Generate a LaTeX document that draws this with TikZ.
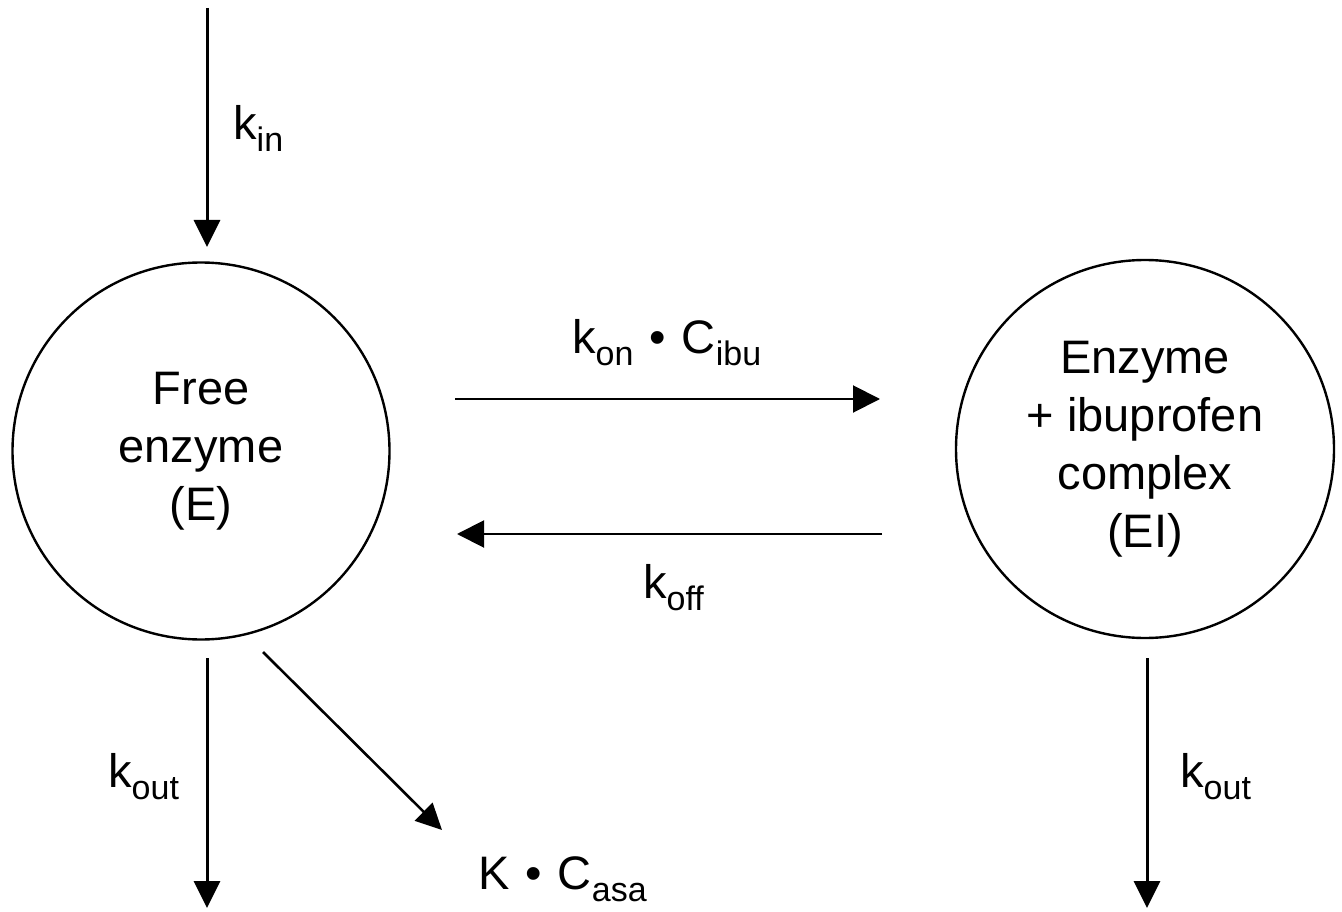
\documentclass[tikz,border=0pt]{standalone}
\usepackage{fontspec}
\setmainfont{Liberation Sans}
\usetikzlibrary{arrows.meta}
% lowered, smaller text for rate-constant subscripts
\newcommand\lowsub[1]{\raisebox{-12pt}{\fontsize{34}{34}\selectfont #1}}
% product dot with wide spacing
\newcommand\mdot{\hspace{16pt}•\hspace{16pt}}
\tikzset{
  pool/.style={circle, draw, line width=2.4pt, inner sep=0pt, align=center,
               font=\fontsize{47}{58}\selectfont},
  rate/.style={inner sep=0pt, anchor=base west, font=\fontsize{47}{56}\selectfont},
  flow/.style={line width=3pt, -{Triangle[length=27pt,width=26pt]}},
  swap/.style={line width=2pt, -{Triangle[length=27pt,width=27pt]}},
  slant/.style={line width=2.6pt, -{Triangle[length=26pt,width=25pt]}},
}
\begin{document}
\begin{tikzpicture}[x=1pt,y=-1pt]
\useasboundingbox (0,0) rectangle (1342,912);

% compartments
\node[pool, minimum size=377pt] (E)  at (201,451)  {Free\\enzyme\\(E)};
\node[pool, minimum size=378pt] (EI) at (1145,449) {Enzyme\\+ ibuprofen\\complex\\(EI)};

% free ends of the flows
\coordinate (inTop)   at (207,8);
\coordinate (inEnd)   at (207,247);
\coordinate (outLtop) at (207,658);
\coordinate (outLend) at (207,908);
\coordinate (outRtop) at (1147,658);
\coordinate (outRend) at (1147,908);
\coordinate (asaTop)  at (263,652);
\coordinate (asaEnd)  at (442,830);
\coordinate (onStart) at (455,399);
\coordinate (onEnd)   at (880,399);
\coordinate (offStart) at (882,534);
\coordinate (offEnd)   at (457,534);

% flows
\draw[flow]  (inTop) -- (inEnd);
\draw[flow]  (outLtop) -- (outLend);
\draw[flow]  (outRtop) -- (outRend);
\draw[slant] (asaTop) -- (asaEnd);
\draw[swap]  (onStart) -- (onEnd);
\draw[swap]  (offStart) -- (offEnd);

% rate labels
\node[rate] (kin)   at (233,140)  {k\lowsub{in}};
\node[rate] (kon)   at (572,353)  {k\lowsub{on}\mdot C\lowsub{ibu}};
\node[rate] (koff)  at (643,598)  {k\lowsub{off}};
\node[rate] (koutL) at (108,787)  {k\lowsub{out}};
\node[rate] (koutR) at (1180,787) {k\lowsub{out}};
\node[rate] (kasa)  at (478,889)  {K\mdot C\lowsub{asa}};
\end{tikzpicture}
\end{document}
